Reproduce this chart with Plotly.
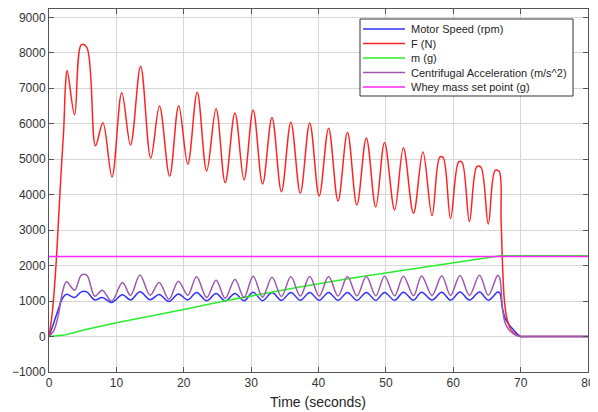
import plotly.graph_objects as go

# series names (legend order)
series_names = [
    "Motor Speed (rpm)",
    "F (N)",
    "m (g)",
    "Centrifugal Acceleration (m/s^2)",
    "Whey mass set point (g)",
]

# F (N)
force_t = [0, 0.5, 1.0, 1.5, 1.85, 2.2, 2.45, 2.7, 3.8, 4.8, 5.6, 6.9, 8.0, 9.35,
           10.8, 12.1, 13.6, 15.1, 16.4, 17.9, 19.25, 20.6, 22.0, 23.4, 24.8, 26.15,
           27.6, 28.95, 30.3, 31.7, 33.1, 34.5, 35.9, 37.3, 38.7, 40.1, 41.5, 42.9,
           44.3, 45.7, 47.1, 48.5, 49.8, 51.3, 52.6, 54.1, 55.5, 56.85, 58.0, 58.5,
           59.6, 60.8, 61.3, 62.4, 63.5, 64.1, 65.2, 66.2, 66.8, 67.1, 67.3, 67.6,
           68.0, 68.6, 69.4, 70, 70.5, 71, 72, 80]
force_v = [0, 700, 1900, 3600, 4800, 5900, 7100, 7500, 6250, 8230, 8160, 5380, 6030, 4500,
           6880, 5400, 7620, 5030, 6500, 4520, 6510, 4860, 6890, 4670, 6420, 4340,
           6300, 4415, 6390, 4300, 6175, 4085, 6045, 4040, 6020, 3960, 5875, 3820,
           5750, 3710, 5600, 3650, 5470, 3570, 5320, 3475, 5200, 3410, 5060, 5050,
           3330, 4925, 4915, 3240, 4790, 4780, 3170, 4680, 4660, 3300, 2100, 1000,
           480, 180, 40, 0, 0, 0, 0, 0]

# motor speed (rpm) and centrifugal acceleration share the same sample times
osc_t = [0, 0.7, 1.34, 2.0, 2.6, 3.8, 4.8, 5.6, 6.8, 7.9, 9.3, 10.9, 12.1, 13.5,
         15.0, 16.35, 17.8, 19.2, 20.6, 21.9, 23.4, 24.8, 26.15, 27.6, 28.95, 30.3,
         31.7, 33.1, 34.5, 35.9, 37.3, 38.7, 40.1, 41.5, 42.9, 44.3, 45.7, 47.1,
         48.5, 49.8, 51.3, 52.6, 54.1, 55.3, 56.85, 58.3, 59.6, 61.0, 62.4, 63.9,
         65.2, 66.6, 66.9, 67.3, 67.7, 68.3, 68.9, 69.5, 70, 70.5, 71, 72, 80]
speed_v = [0, 380, 740, 1080, 1190, 1100, 1260, 1260, 1030, 1100, 960, 1180, 1030, 1260,
           1035, 1185, 985, 1200, 1035, 1245, 1010, 1210, 1000, 1215, 1010, 1250,
           1010, 1240, 1020, 1245, 1020, 1245, 1020, 1245, 1020, 1245, 1020, 1245,
           1020, 1245, 1020, 1250, 1025, 1250, 1025, 1250, 1025, 1255, 1025, 1255,
           1025, 1255, 1230, 800, 520, 330, 200, 70, 0, 0, 0, 0, 0]
accel_v = [0, 160, 560, 1250, 1543, 1308, 1732, 1732, 1138, 1308, 997, 1525, 1158, 1732,
           1167, 1525, 1054, 1562, 1167, 1684, 1100, 1590, 1080, 1610, 1100, 1700,
           1110, 1670, 1130, 1684, 1140, 1690, 1140, 1690, 1140, 1690, 1145, 1690,
           1150, 1700, 1150, 1700, 1150, 1710, 1160, 1715, 1160, 1720, 1165, 1725,
           1165, 1730, 1650, 800, 380, 180, 80, 20, 0, 0, 0, 0, 0]

# m (g)
mass_t = [0, 1.0, 2.3, 3.5, 5.3, 10, 15, 20, 26, 37, 45, 53.6, 60, 67, 80]
mass_v = [0, 10, 40, 100, 190, 390, 570, 760, 1000, 1390, 1650, 1900, 2080, 2280, 2280]

# whey mass set point (g)
setpoint_t = [0, 80]
setpoint_v = [2260, 2260]

colors = ["#3030ff", "#ff2424", "#2aee2a", "#9b5aae", "#ff26ff"]

# page body has an 8px margin, so the figure sits 8px in from the window corner
OFF = 8
W, H = 590, 404
L, R, T, B = 41, 10, 1, 40
PW, PH = W - L - R, H - T - B


def px_x(px):
    return (px - OFF - L) / PW


def px_y(py):
    return 1 - (py - OFF - T) / PH


fig = go.Figure()

data = [
    (osc_t, speed_v, "spline"),
    (force_t, force_v, "spline"),
    (mass_t, mass_v, "linear"),
    (osc_t, accel_v, "spline"),
    (setpoint_t, setpoint_v, "linear"),
]
for (t, v, shape), name, c in zip(data, series_names, colors):
    fig.add_trace(
        go.Scatter(
            x=t, y=v, mode="lines", name=name,
            line=dict(color=c, width=1.5, shape=shape, smoothing=1.0),
            showlegend=False,
        )
    )

# legend box drawn by hand, MATLAB style
shapes = [dict(type="rect", xref="paper", yref="paper",
               x0=px_x(360), x1=px_x(573), y0=px_y(96), y1=px_y(19),
               line=dict(color="#333333", width=1), fillcolor="white", layer="above")]
annotations = []
for i, (name, c) in enumerate(zip(series_names, colors)):
    yy = px_y(29 + i * 14.5)
    shapes.append(dict(type="line", xref="paper", yref="paper",
                       x0=px_x(363), x1=px_x(405), y0=yy, y1=yy,
                       line=dict(color=c, width=1.5), layer="above"))
    annotations.append(dict(xref="paper", yref="paper", x=px_x(409), y=yy,
                            text=name, showarrow=False, xanchor="left", yanchor="middle",
                            font=dict(size=11, color="#262626")))

# x axis title
annotations.append(dict(xref="paper", yref="paper", x=px_x(318), y=px_y(402),
                        text="Time (seconds)", showarrow=False,
                        xanchor="center", yanchor="middle",
                        font=dict(size=14, color="#262626")))

axis_style = dict(
    showline=True, linecolor="#555555", linewidth=1, mirror="ticks",
    ticks="inside", ticklen=5, tickcolor="#555555",
    showgrid=True, gridcolor="#d6d6d6", gridwidth=1, zeroline=False,
    tickfont=dict(size=12, color="#333333"), automargin=False,
)

fig.update_layout(
    width=W, height=H,
    margin=dict(l=L, r=R, t=T, b=B),
    paper_bgcolor="white", plot_bgcolor="white",
    font=dict(family="Liberation Sans, Arial, sans-serif"),
    xaxis=dict(range=[0, 80], dtick=10, **axis_style),
    yaxis=dict(range=[-1000, 9235], tickvals=list(range(-1000, 9001, 1000)), **axis_style),
    shapes=shapes,
    annotations=annotations,
    showlegend=False,
)

fig.write_html("out.html")
